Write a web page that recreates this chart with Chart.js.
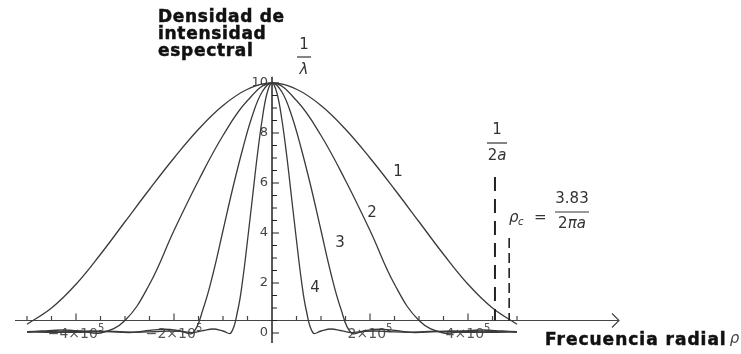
<!DOCTYPE html>
<html lang="es">
<head>
<meta charset="UTF-8">
<title>Densidad de intensidad espectral</title>
<script src="https://cdn.jsdelivr.net/npm/chart.js"></script>
<style>
  body { margin: 0; background: #fff; }
  #wrap { width: 741px; height: 354px; }
</style>
</head>
<body>
<div id="wrap"><canvas id="myChart" width="741" height="354"></canvas></div>
<script>
// half profiles for rho >= 0 (rho in units of 10^5), mirrored for rho < 0
const rho1 = [0, 0.5, 1, 1.5, 2, 2.5, 3, 3.5, 4, 4.5, 5];
const dens1 = [10, 9.75, 9.1, 8.15, 7.0, 5.75, 4.45, 3.15, 1.95, 1.0, 0.35];

const rho2 = [0, 0.5, 1, 1.5, 2, 2.5, 3, 3.5, 3.9, 4.3, 4.7, 5];
const dens2 = [10, 9.3, 7.9, 6.1, 4.1, 1.95, 0.5, 0, 0.08, 0.12, 0.08, 0.05];

const rho3 = [0, 0.2, 0.4, 0.6, 0.8, 1.0, 1.2, 1.4, 1.62, 1.9, 2.2, 2.5, 2.9, 3.3, 3.7, 4.2, 4.6, 5];
const dens3 = [10, 9.65, 8.7, 7.35, 5.8, 4.1, 2.4, 1.0, 0, 0.1, 0.15, 0.1, 0.02, 0.06, 0.08, 0.04, 0.03, 0.05];

const rho4 = [0, 0.1, 0.2, 0.3, 0.4, 0.5, 0.6, 0.7, 0.84, 1.0, 1.2, 1.4, 1.6, 1.8, 2.1, 2.4, 2.8, 3.2, 3.6, 4.0, 4.5, 5];
const dens4 = [10, 9.6, 8.55, 7.1, 5.4, 3.7, 2.1, 0.9, 0, 0.08, 0.16, 0.1, 0.02, 0.05, 0.08, 0.05, 0.03, 0.06, 0.05, 0.03, 0.05, 0.04];

const curveNames = ['1', '2', '3', '4'];
const curveLabelPos = [[398, 172], [372, 213], [340, 243], [315, 288]];

const xTickValues = [-4, -2, 2, 4];
const xTickLabels = ['\u22124\u00d710', '\u22122\u00d710', '2\u00d710', '4\u00d710'];
const yTickValues = [0, 2, 4, 6, 8, 10];

const rhoHalfA = 4.55;  // 1/(2a)
const rhoC = 4.84;      // 3.83/(2 pi a)
const axisLevel = 0.5;  // height where the rho axis is drawn

function mirror(rho, dens) {
  const pts = [];
  for (let i = rho.length - 1; i > 0; i--) pts.push({ x: -rho[i], y: dens[i] });
  for (let i = 0; i < rho.length; i++) pts.push({ x: rho[i], y: dens[i] });
  return pts;
}

// draws a row of [text, font] pieces centred on cx
function drawRuns(ctx, runs, cx, cy) {
  let w = 0;
  runs.forEach(r => { ctx.font = r[1]; w += ctx.measureText(r[0]).width; });
  let xx = cx - w / 2;
  ctx.textAlign = 'left';
  ctx.textBaseline = 'middle';
  runs.forEach(r => { ctx.font = r[1]; ctx.fillText(r[0], xx, cy); xx += ctx.measureText(r[0]).width; });
}

const mathAxes = {
  id: 'mathAxes',
  beforeDatasetsDraw(chart) {
    const { ctx, scales: { x, y } } = chart;
    const px = v => x.getPixelForValue(v);
    const py = v => y.getPixelForValue(v);
    const ya = py(axisLevel);
    ctx.save();

    // rho axis with arrow
    ctx.strokeStyle = '#444';
    ctx.lineWidth = 1.2;
    ctx.beginPath();
    ctx.moveTo(15, ya);
    ctx.lineTo(619, ya);
    ctx.moveTo(612, ya - 7);
    ctx.lineTo(619, ya);
    ctx.lineTo(612, ya + 7);
    ctx.stroke();

    // rho ticks every 0.5, pointing up
    ctx.beginPath();
    for (let t = -5; t <= 5.001; t += 0.5) {
      if (Math.abs(t) < 0.01) continue;
      const len = Math.abs(t % 2) < 0.01 ? 7 : 4.5;
      ctx.moveTo(px(t), ya);
      ctx.lineTo(px(t), ya - len);
    }
    ctx.stroke();

    // rho tick labels
    ctx.fillStyle = '#555';
    ctx.textBaseline = 'alphabetic';
    xTickValues.forEach((v, i) => {
      ctx.font = '14px "DejaVu Sans"';
      const w1 = ctx.measureText(xTickLabels[i]).width;
      ctx.font = '10px "DejaVu Sans"';
      const w2 = ctx.measureText('5').width;
      const x0 = px(v) - (w1 + w2) / 2;
      ctx.font = '14px "DejaVu Sans"';
      ctx.textAlign = 'left';
      ctx.fillText(xTickLabels[i], x0, 338);
      ctx.font = '10px "DejaVu Sans"';
      ctx.fillText('5', x0 + w1, 331);
    });

    // density axis
    const x0 = px(0);
    ctx.strokeStyle = '#222';
    ctx.lineWidth = 1.5;
    ctx.beginPath();
    ctx.moveTo(x0, py(10.25));
    ctx.lineTo(x0, py(-0.4));
    ctx.stroke();
    ctx.lineWidth = 1.2;
    ctx.beginPath();
    for (let t = 0; t <= 10.001; t += 0.5) {
      const len = Math.abs(t % 2) < 0.01 ? 7 : 5;
      ctx.moveTo(x0, py(t));
      ctx.lineTo(x0 + len, py(t));
    }
    ctx.stroke();
    ctx.fillStyle = '#444';
    ctx.font = '13px "DejaVu Sans"';
    ctx.textAlign = 'right';
    ctx.textBaseline = 'middle';
    yTickValues.forEach(v => ctx.fillText(String(v), x0 - 4, py(v)));

    ctx.restore();
  },
  afterDatasetsDraw(chart) {
    const { ctx, scales: { x, y } } = chart;
    const px = v => x.getPixelForValue(v);
    const ya = y.getPixelForValue(axisLevel);
    ctx.save();

    // 1/(2a) and rho_c markers
    ctx.strokeStyle = '#222';
    ctx.lineWidth = 2;
    ctx.setLineDash([14, 8]);
    ctx.beginPath();
    ctx.moveTo(px(rhoHalfA), 177);
    ctx.lineTo(px(rhoHalfA), ya);
    ctx.stroke();
    ctx.lineWidth = 1.6;
    ctx.setLineDash([10, 5]);
    ctx.beginPath();
    ctx.moveTo(px(rhoC), 238);
    ctx.lineTo(px(rhoC), ya);
    ctx.stroke();
    ctx.setLineDash([]);

    const bar = (cx, yBar, half) => {
      ctx.lineWidth = 1.2;
      ctx.beginPath();
      ctx.moveTo(cx - half, yBar);
      ctx.lineTo(cx + half, yBar);
      ctx.stroke();
    };
    const up = '15px "DejaVu Sans"';
    const it = 'italic 15px "DejaVu Sans"';
    ctx.fillStyle = '#333';
    ctx.strokeStyle = '#333';
    drawRuns(ctx, [['1', up]], 304, 45);
    bar(304, 57, 7);
    drawRuns(ctx, [['\u03bb', it]], 304, 70);

    drawRuns(ctx, [['1', up]], 497, 130);
    bar(497, 143, 10);
    drawRuns(ctx, [['2', up], ['a', it]], 497, 156);

    drawRuns(ctx, [['3.83', up]], 572, 199);
    bar(572, 212, 17);
    drawRuns(ctx, [['2', up], ['\u03c0', it], ['a', it]], 572, 224);

    ctx.textAlign = 'left';
    ctx.textBaseline = 'alphabetic';
    ctx.font = it;
    ctx.fillText('\u03c1', 509, 222);
    ctx.font = 'italic 10px "DejaVu Sans"';
    ctx.fillText('c', 518, 225);
    ctx.font = up;
    ctx.fillText('=', 534, 222);

    // curve numbers
    ctx.font = up;
    ctx.textAlign = 'center';
    ctx.textBaseline = 'middle';
    curveNames.forEach((n, i) => ctx.fillText(n, curveLabelPos[i][0], curveLabelPos[i][1]));

    // axis titles
    ctx.fillStyle = '#111';
    ctx.strokeStyle = '#111';
    ctx.lineWidth = 0.5;
    ctx.textAlign = 'left';
    ctx.textBaseline = 'alphabetic';
    ctx.font = 'bold 17px "DejaVu Sans"';
    ctx.letterSpacing = '0.7px';
    [['Densidad de', 22], ['intensidad', 39], ['espectral', 56]].forEach(r => {
      ctx.fillText(r[0], 158, r[1]);
      ctx.strokeText(r[0], 158, r[1]);
    });
    ctx.letterSpacing = '1px';
    ctx.fillText('Frecuencia radial', 545, 345);
    ctx.strokeText('Frecuencia radial', 545, 345);
    const wT = ctx.measureText('Frecuencia radial').width;
    ctx.letterSpacing = '0px';
    ctx.fillStyle = '#444';
    ctx.font = 'italic 15px "DejaVu Sans"';
    ctx.fillText('\u03c1', 545 + wT + 3, 343);

    ctx.restore();
  }
};

const ctx = document.getElementById('myChart').getContext('2d');
const curves = [[rho1, dens1], [rho2, dens2], [rho3, dens3], [rho4, dens4]];
const myChart = new Chart(ctx, {
  type: 'scatter',
  data: {
    datasets: curves.map((c, i) => ({
      label: curveNames[i],
      data: mirror(c[0], c[1]),
      showLine: true,
      borderColor: '#3a3a3a',
      borderWidth: 1.3,
      pointRadius: 0,
      tension: 0.4,
      clip: false
    }))
  },
  options: {
    responsive: false,
    animation: false,
    layout: { padding: 0 },
    plugins: { legend: { display: false }, tooltip: { enabled: false } },
    scales: {
      x: { type: 'linear', display: false, min: -5.551, max: 9.571 },
      y: { type: 'linear', display: false, min: -0.84, max: 13.32 }
    }
  },
  plugins: [mathAxes]
});
</script>
</body>
</html>
